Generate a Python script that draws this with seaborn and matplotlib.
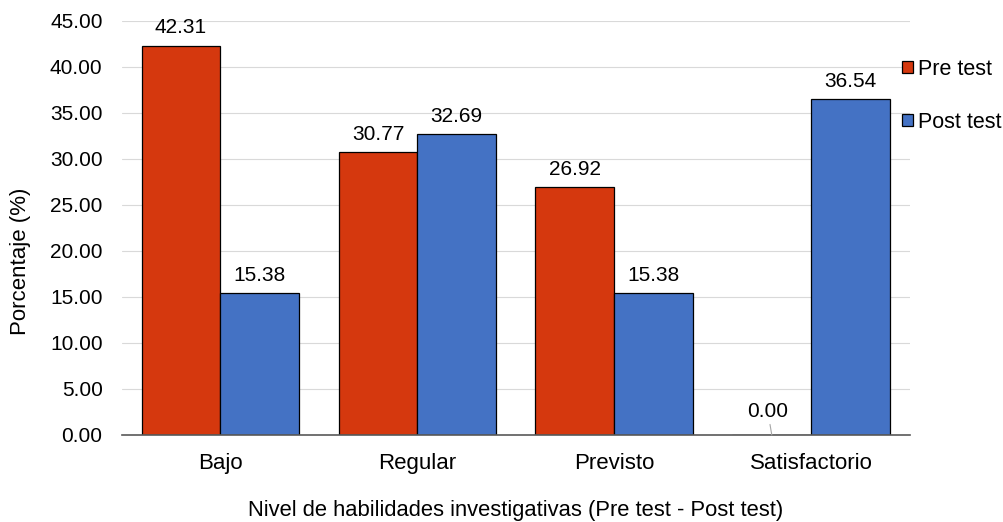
import matplotlib
matplotlib.use("Agg")
import matplotlib.pyplot as plt
import seaborn as sns
import pandas as pd

categorias = ["Bajo", "Regular", "Previsto", "Satisfactorio"]
pre_test = [42.31, 30.77, 26.92, 0.00]
post_test = [15.38, 32.69, 15.38, 36.54]
series = ["Pre test", "Post test"]
colores = ["#D5380E", "#4472C4"]

df = pd.DataFrame({
    "Nivel": categorias * 2,
    "Porcentaje": pre_test + post_test,
    "Grupo": [series[0]] * len(categorias) + [series[1]] * len(categorias),
})

sns.set_theme(style="white")
plt.rcParams["font.family"] = ["Liberation Sans", "DejaVu Sans"]
plt.rcParams["text.color"] = "black"
plt.rcParams["axes.labelcolor"] = "black"
plt.rcParams["xtick.color"] = "black"
plt.rcParams["ytick.color"] = "black"

FS_NUM = 15
FS_TXT = 16

fig = plt.figure(figsize=(10.04, 5.22), dpi=100)
ax = fig.add_axes([0.1215, 0.1667, 0.7845, 0.7931])

sns.barplot(data=df, x="Nivel", y="Porcentaje", hue="Grupo", palette=colores,
            saturation=1, width=0.8, edgecolor="black", linewidth=0.9, ax=ax,
            legend=True)

ax.set_ylim(0, 45)
ax.set_yticks([i * 5 for i in range(10)])
ax.set_yticklabels([f"{i * 5:.2f}" for i in range(10)], fontsize=FS_NUM)
ax.tick_params(axis="x", labelsize=FS_TXT, length=0, pad=13)
ax.tick_params(axis="y", length=0, pad=14)
ax.yaxis.grid(True, color="#D9D9D9", linewidth=0.8)
ax.set_axisbelow(True)
for s in ["top", "right", "left"]:
    ax.spines[s].set_visible(False)
ax.spines["bottom"].set_color("#595959")
ax.spines["bottom"].set_linewidth(1.2)

ax.set_xlabel("Nivel de habilidades investigativas (Pre test - Post test)",
              fontsize=15.8, labelpad=19)
ax.set_ylabel("Porcentaje (%)", fontsize=FS_TXT)
ax.yaxis.set_label_coords(0.031, 0.5, transform=fig.transFigure)

for cont in ax.containers:
    for bar in cont:
        h = bar.get_height()
        xc = bar.get_x() + bar.get_width() / 2
        if h == 0:
            ax.annotate(f"{h:.2f}", xy=(xc, 0), xytext=(xc - 0.02, 1.5),
                        ha="center", va="bottom", fontsize=FS_NUM,
                        arrowprops=dict(arrowstyle="-", color="#A6A6A6", lw=0.8,
                                        shrinkA=0, shrinkB=0))
        else:
            ax.text(xc, h + 0.9, f"{h:.2f}", ha="center", va="bottom", fontsize=FS_NUM)

leg = ax.legend(loc="upper left", bbox_to_anchor=(0.98, 0.93), frameon=False,
                fontsize=15.5, handlelength=0.5, handleheight=0.5,
                handletextpad=0.2, labelspacing=1.5, borderaxespad=0)
for p in leg.get_patches():
    p.set_linewidth(0.9)

fig.savefig("out.png", dpi=100)
